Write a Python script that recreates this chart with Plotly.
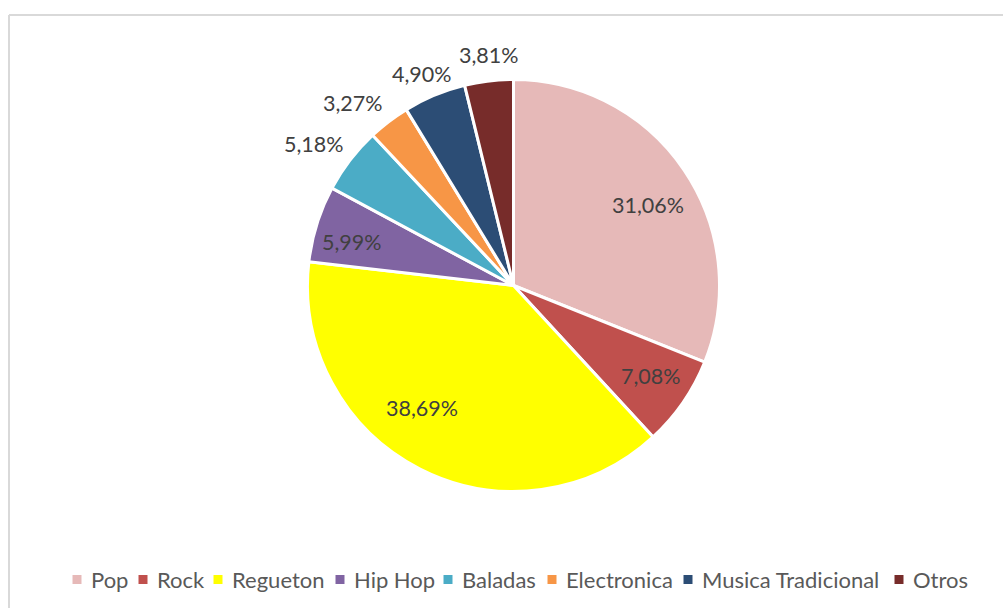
import math
import plotly.graph_objects as go

# Music genre preference shares (%)
genres = ["Pop", "Rock", "Regueton", "Hip Hop", "Baladas", "Electronica",
          "Musica Tradicional", "Otros"]
shares = [31.06, 7.08, 38.69, 5.99, 5.18, 3.27, 4.90, 3.81]
colors = ["#E6B9B8", "#C0504D", "#FFFF00", "#8064A2", "#4BACC6", "#F79646",
          "#2C4D75", "#772C2A"]

# Data-label placement: radius as a fraction of the pie radius, and a small
# angular nudge (degrees) away from the slice's mid-angle
label_radius = [0.761, 0.80, 0.744, 0.81, 1.19, 1.18, 1.116, 1.123]
label_nudge = [3.2, -1.3, 9.7, -2.2, -2.2, -4.1, -0.8, 0.8]

# Legend layout (pixel x of each swatch centre)
legend_x = [77, 143, 218, 340, 448, 552, 688, 899]
legend_y = 579.5

W, H = 1003, 608
cx, cy, r = 513.5, 285.5, 206


def px(x):
    return x / W


def py(y):
    return 1 - y / H


fig = go.Figure(go.Pie(
    labels=genres,
    values=shares,
    sort=False,
    direction="clockwise",
    rotation=0,
    marker=dict(colors=colors, line=dict(color="white", width=3)),
    textinfo="none",
    hoverinfo="label+value",
    domain=dict(x=[px(cx - r), px(cx + r)], y=[py(cy + r), py(cy - r)]),
    automargin=False,
    showlegend=False,
))

annotations = []
shapes = []

# Percentage labels, placed from each slice's mid-angle
total = sum(shares)
cum = 0.0
for val, rf, nudge in zip(shares, label_radius, label_nudge):
    mid = (cum + val / 2) / total * 360 + nudge
    cum += val
    a = math.radians(mid)
    x = cx + rf * r * math.sin(a)
    y = cy - rf * r * math.cos(a)
    annotations.append(dict(
        x=px(x), y=py(y), xref="paper", yref="paper",
        text=f"{val:.2f}".replace(".", ",") + "%",
        showarrow=False, xanchor="center", yanchor="middle",
        font=dict(family="Lato", size=21.5, color="#404040"),
    ))

# Legend: square swatches followed by the genre name
for name, col, lx in zip(genres, colors, legend_x):
    shapes.append(dict(
        type="rect", xref="paper", yref="paper",
        x0=px(lx - 4.5), x1=px(lx + 4.5),
        y0=py(legend_y + 4.5), y1=py(legend_y - 4.5),
        fillcolor=col, line=dict(width=0),
    ))
    annotations.append(dict(
        x=px(lx + 12), y=py(legend_y), xref="paper", yref="paper",
        text=name, showarrow=False, xanchor="left", yanchor="middle",
        font=dict(family="Lato", size=22, color="#595959"),
    ))

# Chart-area frame
shapes += [
    dict(type="line", xref="paper", yref="paper",
         x0=px(9), x1=1.01, y0=py(15), y1=py(15),
         line=dict(color="#D9D9D9", width=2)),
    dict(type="line", xref="paper", yref="paper",
         x0=px(9), x1=px(9), y0=py(15), y1=-0.01,
         line=dict(color="#D9D9D9", width=2)),
]

fig.update_layout(
    width=W, height=H,
    margin=dict(l=0, r=0, t=0, b=0),
    paper_bgcolor="white",
    plot_bgcolor="white",
    showlegend=False,
    annotations=annotations,
    shapes=shapes,
)

fig.write_html("out.html")
